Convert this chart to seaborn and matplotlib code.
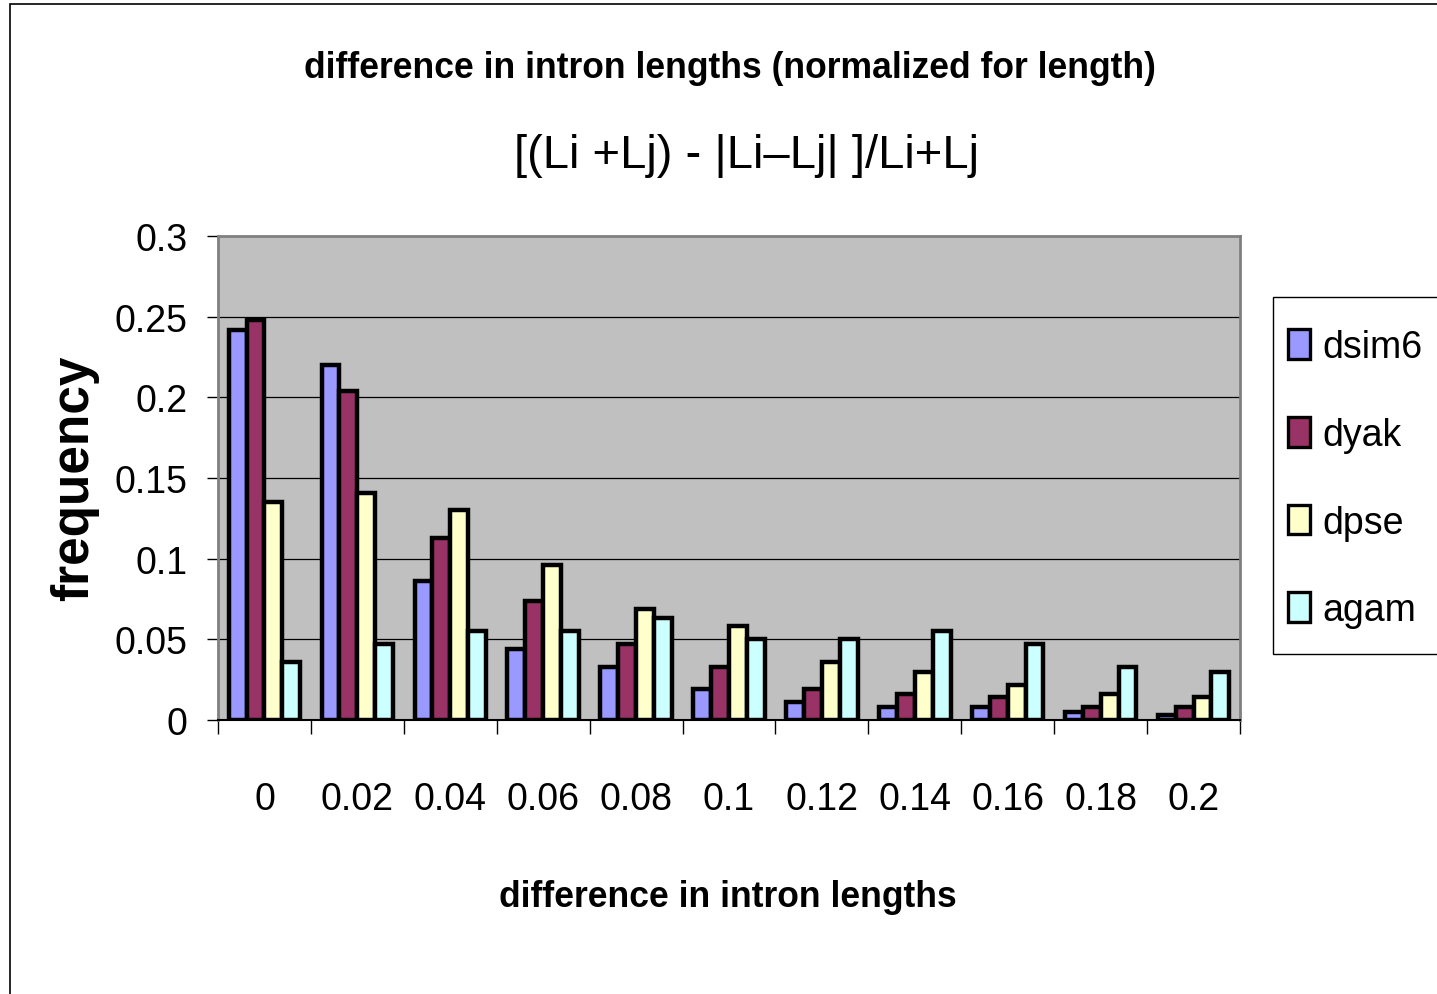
import matplotlib
matplotlib.use("Agg")
import matplotlib.pyplot as plt
from matplotlib.patches import Rectangle
import seaborn as sns
import pandas as pd

# Histogram of normalized intron-length differences per species
bins = ["0", "0.02", "0.04", "0.06", "0.08", "0.1", "0.12", "0.14", "0.16", "0.18", "0.2"]
species = ["dsim6", "dyak", "dpse", "agam"]
dsim6 = [0.242, 0.220, 0.086, 0.044, 0.033, 0.019, 0.011, 0.008, 0.008, 0.005, 0.003]
dyak = [0.248, 0.204, 0.113, 0.074, 0.047, 0.033, 0.019, 0.016, 0.014, 0.008, 0.008]
dpse = [0.135, 0.141, 0.130, 0.096, 0.069, 0.058, 0.036, 0.030, 0.022, 0.016, 0.014]
agam = [0.036, 0.047, 0.055, 0.055, 0.063, 0.050, 0.050, 0.055, 0.047, 0.033, 0.030]
colors = ["#9999FF", "#993366", "#FFFFCC", "#CCFFFF"]
y_ticks = [0, 0.05, 0.1, 0.15, 0.2, 0.25, 0.3]
y_tick_labels = ["0", "0.05", "0.1", "0.15", "0.2", "0.25", "0.3"]

df = pd.DataFrame({
    "bin": bins * 4,
    "species": sum([[s] * len(bins) for s in species], []),
    "frequency": dsim6 + dyak + dpse + agam,
})

sns.set_theme(style="white")
plt.rcParams["font.family"] = ["Liberation Sans", "DejaVu Sans"]
for key in ["text.color", "axes.labelcolor", "xtick.color", "ytick.color"]:
    plt.rcParams[key] = "black"

W, H = 1437, 995
fig = plt.figure(figsize=(W / 100, H / 100), dpi=100)
fig.patch.set_facecolor("white")

# page frame
fig.add_artist(Rectangle((10 / W, -0.1), 1.2, 1 - 5 / H + 0.1, transform=fig.transFigure,
                         fill=False, edgecolor="black", linewidth=1.2))

ax = fig.add_axes([218 / W, 1 - 721 / H, (1240 - 218) / W, (721 - 237) / H])
ax.set_facecolor("#C0C0C0")

sns.barplot(data=df, x="bin", y="frequency", hue="species", hue_order=species,
            palette=colors, width=0.77, gap=0, edgecolor="black", linewidth=3.2,
            saturation=1, ax=ax, legend=False)

ax.set_ylim(0, 0.3)
ax.set_xlim(-0.5, len(bins) - 0.5)
ax.set_yticks(y_ticks)
ax.set_yticklabels(y_tick_labels, fontsize=27)
ax.grid(axis="y", color="black", linewidth=0.9)
ax.set_axisbelow(True)
ax.tick_params(axis="y", which="major", length=8, width=1, color="black", left=True, pad=14)

ax.set_xticks(range(len(bins)))
ax.set_xticklabels(bins, fontsize=27)
ax.set_xticks([i - 0.5 for i in range(len(bins) + 1)], minor=True)
ax.tick_params(axis="x", which="major", length=0, pad=44)
ax.tick_params(axis="x", which="minor", length=10, width=1, color="black", bottom=True, direction="out")

for side in ["top", "right", "left"]:
    ax.spines[side].set_color("#808080")
    ax.spines[side].set_linewidth(2)
ax.spines["bottom"].set_color("black")
ax.spines["bottom"].set_linewidth(1.5)

ax.set_xlabel("")
ax.set_ylabel("")

fig.text(730 / W, 1 - 68 / H, "difference in intron lengths (normalized for length)",
         ha="center", va="center", fontsize=25.6, fontweight="bold")
fig.text(746 / W, 1 - 156 / H, "[(Li +Lj) - |Li\u2013Lj| ]/Li+Lj",
         ha="center", va="center", fontsize=34)
fig.text(728 / W, 1 - 898 / H, "difference in intron lengths",
         ha="center", va="center", fontsize=25.6, fontweight="bold")
fig.text(75 / W, 1 - 478 / H, "frequency", ha="center", va="center", rotation=90,
         fontsize=37, fontweight="bold")

# legend box and entries
fig.add_artist(Rectangle((1273 / W, 1 - 655 / H), 0.2, (655 - 298) / H,
                         transform=fig.transFigure, facecolor="white",
                         edgecolor="black", linewidth=1))
handles = [Rectangle((0, 0), 1, 1, facecolor=c, edgecolor="black", linewidth=2.4) for c in colors]
leg = fig.legend(handles, species, loc="upper left", bbox_to_anchor=(1288 / W, 1 - 330 / H),
                 frameon=False, fontsize=27, handlelength=0.59, handleheight=0.85,
                 handletextpad=0.32, labelspacing=1.38, borderpad=0,
                 borderaxespad=0)

fig.savefig("out.png", dpi=100)
